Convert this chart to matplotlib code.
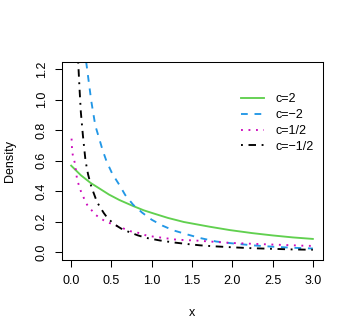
import numpy as np
import matplotlib
matplotlib.use("Agg")
import matplotlib.pyplot as plt

plt.rcParams['font.family'] = ['Liberation Sans', 'DejaVu Sans']

# values
x_c2 = [0.0, 0.12, 0.24, 0.36, 0.47, 0.60, 0.76, 0.90, 1.0, 1.2, 1.4, 1.72, 1.97, 2.25, 2.5, 2.75, 3.0]
y_c2 = [0.568, 0.505, 0.455, 0.415, 0.378, 0.342, 0.305, 0.275, 0.258, 0.225, 0.198, 0.167, 0.145, 0.125, 0.110, 0.097, 0.087]

x_cm2 = [0.186, 0.25, 0.30, 0.34, 0.39, 0.44, 0.51, 0.60, 0.67, 0.77, 0.88, 1.0, 1.13, 1.27, 1.45, 1.6, 1.8, 2.0, 2.25, 2.5, 2.75, 3.0]
y_cm2 = [1.25, 0.99, 0.83, 0.76, 0.67, 0.595, 0.515, 0.44, 0.376, 0.311, 0.26, 0.213, 0.175, 0.143, 0.115, 0.093, 0.070, 0.058, 0.045, 0.036, 0.029, 0.024]

x_ch = [0.005, 0.012, 0.025, 0.046, 0.074, 0.128, 0.198, 0.30, 0.36, 0.425, 0.57, 0.74, 0.86, 0.94, 1.31, 1.56, 1.97, 2.4, 2.86, 3.0]
y_ch = [0.745, 0.66, 0.625, 0.585, 0.475, 0.388, 0.311, 0.246, 0.224, 0.202, 0.172, 0.137, 0.124, 0.108, 0.082, 0.076, 0.061, 0.052, 0.043, 0.041]

x_cmh = [0.087, 0.103, 0.12, 0.145, 0.178, 0.21, 0.25, 0.32, 0.36, 0.405, 0.45, 0.53, 0.62, 0.72, 0.83, 0.94, 1.1, 1.27, 1.45, 1.6, 1.76, 2.0, 2.25, 2.5, 2.75, 3.0]
y_cmh = [1.25, 1.08, 0.92, 0.77, 0.60, 0.51, 0.43, 0.33, 0.295, 0.257, 0.225, 0.185, 0.155, 0.132, 0.110, 0.093, 0.077, 0.064, 0.053, 0.045, 0.039, 0.032, 0.026, 0.022, 0.018, 0.016]

labels = ["c=2", "c=\u22122", "c=1/2", "c=\u22121/2"]
colors = ["#61D04F", "#2297E6", "#CD0BBC", "black"]
styles = ["-", (0, (3.6, 3.6)), (0, (1, 3)), (0, (1, 3, 4, 3))]

W, H = 354, 336
FS = 9
fig = plt.figure(figsize=(W / 100, H / 100), dpi=100)
ax = fig.add_axes([61.5 / W, 1 - 259.5 / H, (322.5 - 61.5) / W, (259.5 - 62) / H])

series = [(x_c2, y_c2), (x_cm2, y_cm2), (x_ch, y_ch), (x_cmh, y_cmh)]
for (xs, ys), lab, col, ls in zip(series, labels, colors, styles):
    ax.plot(xs, ys, color=col, linestyle=ls, linewidth=1.35, label=lab)

ax.set_xlim(-0.12, 3.12)
ax.set_ylim(-0.048, 1.248)
ax.set_xticks(np.arange(0, 3.01, 0.5))
ax.set_yticks(np.arange(0, 1.21, 0.2))
ax.set_xticklabels([f"{v:.1f}" for v in np.arange(0, 3.01, 0.5)])
ax.set_yticklabels([f"{v:.1f}" for v in np.arange(0, 1.21, 0.2)], rotation=90, va='center')
ax.tick_params(direction='out', length=5, width=0.75, labelsize=FS, color='black')
ax.tick_params(axis='x', pad=6.5)
ax.tick_params(axis='y', pad=5)
for s in ax.spines.values():
    s.set_linewidth(0.75)

ax.set_xlabel("x", fontsize=FS, va='center')
ax.xaxis.set_label_coords(192 / W, 1 - 312.7 / H, transform=fig.transFigure)
ax.set_ylabel("Density", fontsize=FS, va='center')
ax.yaxis.set_label_coords(10 / W, 1 - 160.75 / H, transform=fig.transFigure)

ax.legend(loc='upper left', bbox_to_anchor=(241 / W, 1 - 93.5 / H), bbox_transform=fig.transFigure,
          frameon=False, fontsize=FS, handlelength=1.85, handletextpad=0.95,
          labelspacing=0.3, borderpad=0, borderaxespad=0)

fig.savefig("out.png", dpi=100)
